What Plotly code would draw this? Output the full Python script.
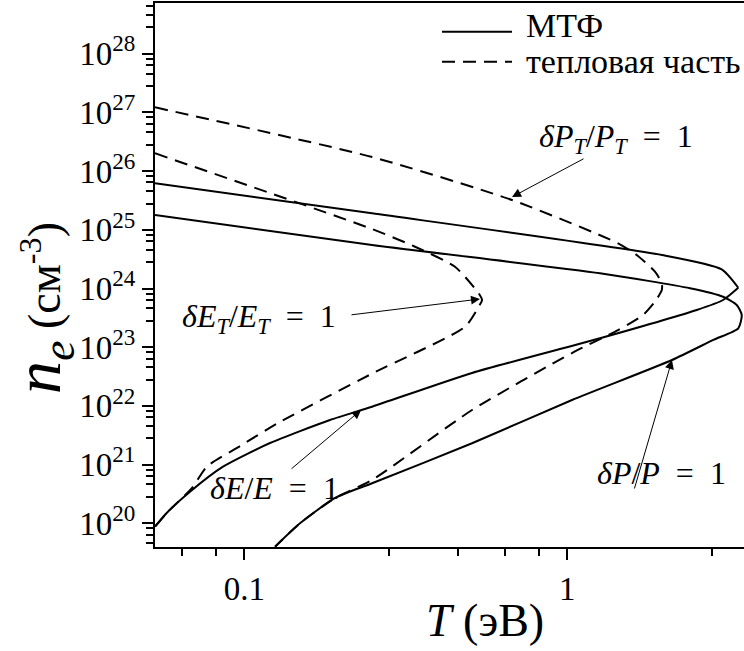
import numpy as np
import plotly.graph_objects as go

# ---- data ----
# delta E / E = 1 (full model, solid): upper branch up to the tip, then lower branch from the tip
T_dE_up = [0.0529, 0.2486, 1.965, 3.006, 3.383]
n_dE_up = [6.19e25, 1.91e25, 3.72e24, 2.12e24, 1.03e24]
T_dE_lo = [3.383, 3.034, 2.516, 1.262, 0.507, 0.2486, 0.1842, 0.1201, 0.0859, 0.0679, 0.0575, 0.0529]
n_dE_lo = [1.03e24, 6.37e23, 4.31e23, 1.42e23, 3.64e22, 9.68e21, 5.75e21, 2.33e21, 9.21e20, 3.45e20, 1.50e20, 8.75e19]

# delta P / P = 1 (full model, solid)
T_dP = [0.0529, 0.2486, 1.262, 2.399, 3.034, 3.346, 3.467, 3.383, 2.831, 2.109, 1.034, 0.507, 0.2486, 0.191, 0.1487, 0.1245]
n_dP = [1.79e25, 5.51e24, 1.82e24, 1.01e24, 7.24e23, 5.24e23, 3.54e23, 2.10e23, 1.33e23, 6.05e22, 1.26e22, 2.31e21, 4.80e20, 2.70e20, 1.0e20, 3.99e19]

# delta E_T / E_T = 1 (thermal part, dashed)
T_dET = [0.0529, 0.2486, 0.3377, 0.449, 0.5317, 0.5444, 0.5317, 0.4824, 0.2486, 0.1272, 0.0970, 0.0765, 0.0689, 0.0575, 0.0529]
n_dET = [2.01e26, 1.03e25, 5.15e24, 2.35e24, 8.28e23, 6.37e23, 4.90e23, 2.23e23, 3.55e22, 5.12e21, 2.07e21, 9.21e20, 3.99e20, 1.50e20, 8.75e19]

# delta P_T / P_T = 1 (thermal part, dashed)
T_dPT = [0.0529, 0.2486, 0.6742, 1.436, 1.640, 1.868, 1.961, 1.961, 1.868, 1.716, 1.436, 1.034, 0.507, 0.2486, 0.191, 0.1487, 0.1245]
n_dPT = [1.22e27, 1.74e26, 3.22e25, 5.89e24, 3.72e24, 1.93e24, 1.23e24, 9.42e23, 5.96e23, 3.54e23, 1.96e23, 7.96e22, 8.51e21, 5.47e20, 2.70e20, 1.0e20, 3.99e19]

x_major = [0.1, 1]
x_major_text = ["0.1", "1"]
x_minor = [0.064, 0.082, 0.28, 0.46, 0.64, 0.82, 2.8]
y_exps = list(range(20, 29))
y_major = [10.0 ** e for e in y_exps]
y_major_text = ["10<sup>%d</sup>" % e for e in y_exps]
y_minor = [m * 10.0 ** e for e in range(19, 29) for m in (2.8, 4.6, 6.4, 8.2)]

legend_labels = ["МТФ", "тепловая часть"]
EQ = "&nbsp;&nbsp;=&nbsp;&nbsp;1"
curve_labels = {
    "dPT": "<i>δP</i><sub><i>T</i></sub>/<i>P</i><sub><i>T</i></sub>" + EQ,
    "dET": "<i>δE</i><sub><i>T</i></sub>/<i>E</i><sub><i>T</i></sub>" + EQ,
    "dE": "<i>δE</i>/<i>E</i>" + EQ,
    "dP": "<i>δP</i>/<i>P</i>" + EQ,
}

FONT = "Liberation Serif"
DASH = "13px,8px"
SOLID = dict(color="black", width=2, shape="spline", smoothing=0.6)
DASHED = dict(color="black", width=2, dash=DASH, shape="spline", smoothing=0.6)

fig = go.Figure()
fig.add_trace(go.Scatter(x=T_dE_up, y=n_dE_up, mode="lines", line=SOLID, showlegend=False))
fig.add_trace(go.Scatter(x=T_dE_lo, y=n_dE_lo, mode="lines", line=SOLID, showlegend=False))
fig.add_trace(go.Scatter(x=T_dP, y=n_dP, mode="lines", line=SOLID, showlegend=False))
fig.add_trace(go.Scatter(x=T_dET, y=n_dET, mode="lines", line=DASHED, showlegend=False))
fig.add_trace(go.Scatter(x=T_dPT, y=n_dPT, mode="lines", line=DASHED, showlegend=False))

L, R, T_, B = 155, 0, 3, 104
W, H = 744, 651

fig.update_layout(
    width=W, height=H,
    margin=dict(l=L, r=R, t=T_, b=B),
    paper_bgcolor="white", plot_bgcolor="white",
    font=dict(family=FONT, color="black", size=32),
    showlegend=False,
)
fig.update_xaxes(
    type="log", range=[np.log10(0.0529), 0.547],
    tickmode="array", tickvals=x_major, ticktext=x_major_text,
    ticks="outside", ticklen=11, tickwidth=2, tickcolor="black",
    minor=dict(tickmode="array", tickvals=x_minor, ticks="outside", ticklen=7, tickwidth=2, tickcolor="black"),
    showline=True, linecolor="black", linewidth=2, mirror=True,
    showgrid=False, zeroline=False,
    tickfont=dict(family=FONT, size=33),
)
fig.update_yaxes(
    type="log", range=[19.596, 28.864],
    tickmode="array", tickvals=y_major, ticktext=y_major_text,
    ticks="outside", ticklen=11, tickwidth=2, tickcolor="black",
    minor=dict(tickmode="array", tickvals=y_minor, ticks="outside", ticklen=7, tickwidth=2, tickcolor="black"),
    showline=True, linecolor="black", linewidth=2,
    showgrid=False, zeroline=False,
    tickfont=dict(family=FONT, size=33),
)

def px2paper(px, py):
    return (px - L) / (W - L - R), (H - B - py) / (H - B - T_)

ann = []
# arrows: tip in data coords (log10 for log axes), tail offset in pixels
arrows = [
    (np.log10(0.6742), 25.559, 73, -39),
    (-0.2703, 23.821, -130, 16),
    (-0.6387, 21.930, -71, 60),
    (0.3241, 22.782, -38, 130),
]
for x, y, ax, ay in arrows:
    ann.append(dict(x=x, y=y, xref="x", yref="y", text="", showarrow=True,
                    ax=ax, ay=ay, arrowhead=2, arrowsize=1.8, arrowwidth=1, arrowcolor="black", standoff=0))

labels = [("dPT", 616, 138), ("dET", 259, 318), ("dE", 274, 488), ("dP", 661, 473)]
for key, px, py in labels:
    xp, yp = px2paper(px, py)
    ann.append(dict(x=xp, y=yp, xref="paper", yref="paper", text=curve_labels[key], showarrow=False,
                    font=dict(family=FONT, size=32), xanchor="center", yanchor="middle"))

# legend
xp0, yp0 = px2paper(442, 31.7)
xp1, yp1 = px2paper(512, 61.7)
shapes = [
    dict(type="line", xref="paper", yref="paper", x0=xp0, x1=xp1, y0=yp0, y1=yp0, line=dict(color="black", width=2)),
    dict(type="line", xref="paper", yref="paper", x0=xp0, x1=xp1, y0=yp1, y1=yp1, line=dict(color="black", width=2, dash=DASH)),
]
for lab, py in zip(legend_labels, [26, 62]):
    xp, yp = px2paper(524, py)
    ann.append(dict(x=xp, y=yp, xref="paper", yref="paper", text=lab, showarrow=False,
                    font=dict(family=FONT, size=34), xanchor="left", yanchor="middle"))

# axis titles
xp, yp = px2paper(485, 620)
ann.append(dict(x=xp, y=yp, xref="paper", yref="paper", text="<i>T</i>&nbsp;(эВ)", showarrow=False,
                font=dict(family=FONT, size=46), xanchor="center", yanchor="middle"))
xp, yp = px2paper(42, 308)
ann.append(dict(x=xp, y=yp, xref="paper", yref="paper",
                text="<span style='font-size:66px'><i>n</i><sub><i>e</i></sub></span>&nbsp;(см<sup>-3</sup>)",
                showarrow=False, textangle=-90, font=dict(family=FONT, size=46), xanchor="center", yanchor="middle"))

fig.update_layout(annotations=ann, shapes=shapes)
fig.write_html("out.html")
